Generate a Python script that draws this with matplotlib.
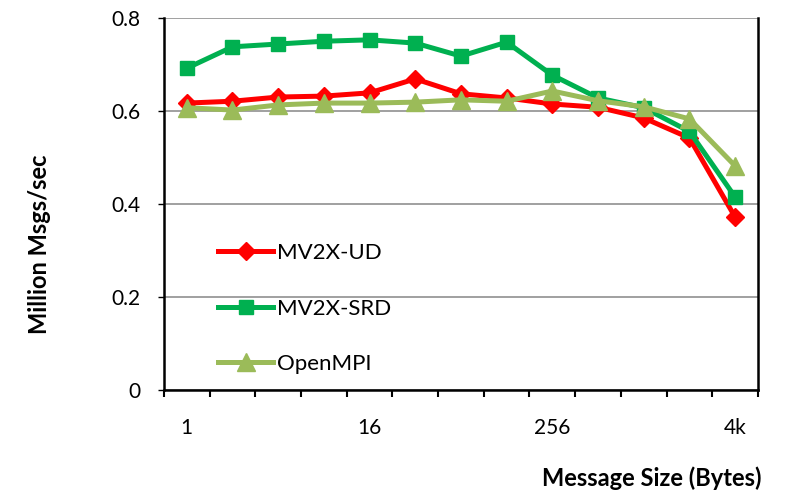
import numpy as np
import matplotlib.pyplot as plt

plt.rcParams['font.family'] = ['Lato', 'DejaVu Sans']

# message sizes 1 B .. 4 KB
sizes = ['1', '2', '4', '8', '16', '32', '64', '128', '256', '512', '1k', '2k', '4k']
tick_labels = ['1', '16', '256', '4k']
ud = [0.617, 0.621, 0.630, 0.632, 0.639, 0.669, 0.637, 0.628, 0.615, 0.608, 0.585, 0.542, 0.372]
srd = [0.692, 0.738, 0.744, 0.750, 0.753, 0.746, 0.718, 0.748, 0.677, 0.628, 0.607, 0.556, 0.415]
ompi = [0.607, 0.602, 0.613, 0.617, 0.617, 0.619, 0.624, 0.621, 0.643, 0.622, 0.609, 0.583, 0.482]

fig = plt.figure(figsize=(7.92, 4.94), dpi=100)
ax = fig.add_axes([0.207, 0.2105, 0.75, 0.7531])

x = np.arange(len(sizes))
ax.plot(x, ud, color='#FF0000', lw=3.6, marker='D', ms=9.5, label='MV2X-UD', zorder=3)
ax.plot(x, srd, color='#00B050', lw=3.6, marker='s', ms=10, label='MV2X-SRD', zorder=3)
ax.plot(x, ompi, color='#9BBB59', lw=3.6, marker='^', ms=13, label='OpenMPI', zorder=3)

ax.set_xlim(-0.5, len(sizes) - 0.5)
ax.set_ylim(0, 0.8)
ax.set_yticks([0, 0.2, 0.4, 0.6, 0.8])
ax.set_yticklabels(['0', '0.2', '0.4', '0.6', '0.8'], fontsize=15)
ax.yaxis.grid(True, color='#999999', lw=1.3)
ax.set_axisbelow(True)

# category-style x axis: ticks at boundaries, labels on every 4th point
ax.set_xticks([sizes.index(t) for t in tick_labels])
ax.set_xticklabels(tick_labels, fontsize=15)
ax.set_xticks(np.arange(-0.5, len(sizes)), minor=True)
ax.tick_params(axis='x', which='major', length=0, pad=20)
ax.tick_params(axis='x', which='minor', length=5, width=1.5, direction='out')
ax.tick_params(axis='y', length=4, width=1, direction='out', pad=13)

for s in ['left', 'bottom', 'right']:
    ax.spines[s].set_linewidth(1.8)
ax.spines['top'].set_visible(False)

fig.text(0.05, 0.505, 'Million Msgs/sec', rotation=90, ha='center', va='center',
         fontsize=17, fontweight='bold')
fig.text(0.962, 0.032, 'Message Size (Bytes)', ha='right', va='center',
         fontsize=17, fontweight='bold')

ax.legend(loc='lower left', bbox_to_anchor=(0.073, 0.013), frameon=False, fontsize=16,
          handlelength=2.45, handletextpad=0.2, labelspacing=1.6, borderpad=0)

fig.savefig('out.png', dpi=100)
